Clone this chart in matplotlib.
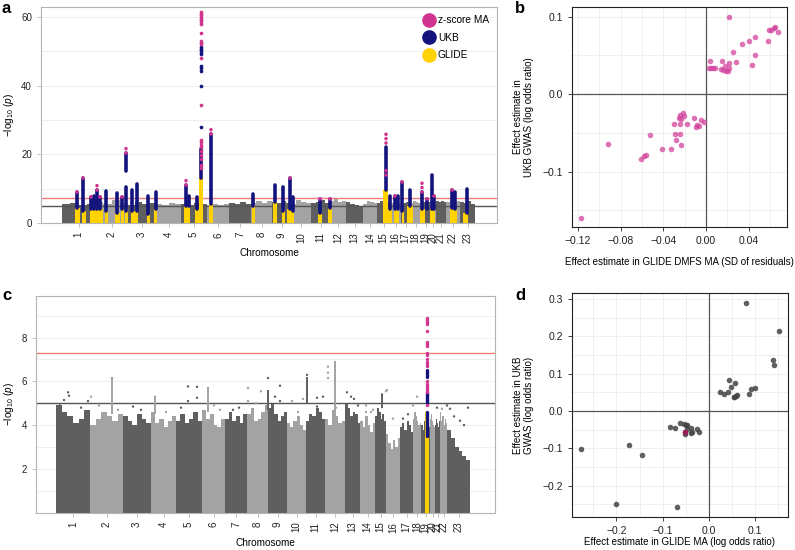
import numpy as np
import matplotlib
matplotlib.use('Agg')
import matplotlib.pyplot as plt
from matplotlib.lines import Line2D
from matplotlib.ticker import FixedLocator

plt.rcParams['font.family'] = ['Liberation Sans', 'DejaVu Sans']
plt.rcParams['mathtext.fontset'] = 'custom'
plt.rcParams['mathtext.rm'] = 'Liberation Sans'
plt.rcParams['mathtext.it'] = 'Liberation Sans:italic'
plt.rcParams['font.size'] = 7

# ---------------- data ----------------
chrom_labels = [str(i) for i in range(1, 24)]

# cumulative genome positions of chromosome borders (panel a / panel c)
edges_a = [21, 54, 87, 115, 140, 166, 188, 210, 231, 250, 270, 289, 305, 322,
           336, 349, 360, 369, 380, 389, 395, 405, 419, 434]
edges_c = [20, 54, 87, 115, 140, 166, 189, 211, 232, 251, 270, 289, 309, 324,
           339, 350, 364, 377, 385, 394, 399, 404, 411, 434]

# bulk of SNPs: upper envelope of -log10(p) per chromosome
env_a = [[5.5, 5.8, 5.2, 5.6], [6.2, 5.4, 6.8, 5.9], [5.3, 6.0, 5.5, 5.7],
         [5.4, 5.2, 5.8, 5.5], [5.6, 5.3, 5.9, 5.4], [5.2, 5.5, 5.1, 5.4],
         [5.8, 5.5, 6.0, 5.6], [5.9, 6.3, 5.7, 6.5], [6.0, 5.7, 6.4, 5.8],
         [5.5, 6.8, 6.1, 5.9], [5.7, 6.2, 6.6, 5.9], [6.4, 6.9, 6.1, 6.5],
         [6.2, 5.6, 5.3, 5.0], [5.6, 6.5, 6.0, 5.8], [5.9, 6.3, 5.7, 6.1],
         [5.8, 6.1, 5.5, 5.9], [6.0, 5.7, 6.2, 5.9], [5.7, 6.3, 6.0, 5.8],
         [6.4, 6.1, 6.6, 6.2], [6.0, 6.4, 5.9, 6.2], [6.3, 6.0, 6.5, 6.1],
         [6.2, 6.6, 6.0, 6.4], [6.1, 5.8, 6.3, 5.6]]
env_c = [[4.9, 4.6, 4.4, 4.1, 4.3, 4.7], [4.0, 4.3, 4.6, 4.4, 4.2, 4.5],
         [4.4, 4.2, 4.0, 4.5, 4.3, 4.1], [4.6, 4.1, 4.3, 3.9, 4.2, 4.4],
         [4.2, 4.5, 4.1, 4.3, 4.6, 4.2], [4.7, 4.3, 4.5, 4.0, 3.9, 4.3],
         [4.3, 4.6, 4.2, 4.4, 4.1, 4.5], [4.5, 4.8, 4.2, 4.3, 4.6, 4.9],
         [4.8, 5.0, 4.5, 4.2, 4.4, 4.6], [4.1, 3.9, 4.2, 4.4, 4.0, 3.8],
         [4.2, 4.5, 4.4, 4.8, 4.6, 4.3], [4.3, 4.0, 4.7, 4.4, 4.1, 4.2],
         [5.0, 4.8, 4.4, 4.6, 4.5, 4.1], [4.2, 3.9, 4.4, 4.0, 3.7, 4.1],
         [4.4, 4.8, 4.6, 4.3, 4.5, 4.2], [3.6, 3.2, 2.9, 3.3, 3.0, 3.4],
         [3.9, 4.1, 3.8, 4.2, 4.0, 3.7], [4.3, 4.6, 4.4, 4.2, 4.0, 4.1],
         [4.0, 3.8, 4.2, 3.6, 3.5, 3.9], [4.3, 4.5, 4.2, 4.4, 4.0, 3.9],
         [4.0, 4.3, 4.1, 3.8, 3.9, 4.2], [4.6, 4.2, 4.4, 4.0, 4.3, 4.1],
         [3.8, 3.4, 3.0, 2.8, 2.6, 2.4]]

# panel a: GLIDE (gold) blocks
gold_left = [34, 41, 49, 64, 74, 80, 84, 90, 106, 113, 143, 154, 158, 168, 211,
             232, 241, 246, 277, 287, 342, 347, 353, 361, 366, 379, 389, 409, 422]
gold_right = [39, 45, 62, 67, 79, 83, 87, 97, 109, 116, 149, 158, 162, 172, 214,
              236, 244, 253, 281, 291, 347, 351, 358, 363, 372, 384, 394, 416, 427]
gold_h = [4.4, 3.5, 4.0, 3.5, 3.0, 4.0, 3.5, 3.5, 2.5, 4.0, 5.0, 4.0, 13.0, 5.5, 5.0,
          6.0, 3.5, 4.0, 3.0, 4.5, 9.6, 4.0, 4.0, 3.5, 5.0, 4.0, 4.0, 4.5, 3.0]

# panel a: UKB (navy) columns
navy_x = [36, 42, 50, 53, 56, 59, 65, 76, 81, 85, 85, 91, 96, 107, 115, 145, 148,
          156, 160, 170, 212, 234, 242, 249, 252, 279, 289, 345, 349, 354, 357,
          361, 369, 381, 386, 391, 393, 411, 414, 426]
navy_lo = [4.4, 3.5, 4.0, 4.0, 4.0, 4.0, 3.5, 3.0, 4.0, 3.5, 15.0, 3.5, 3.5, 2.5,
           4.0, 5.0, 5.0, 4.0, 13.0, 5.5, 5.0, 6.0, 3.5, 4.0, 3.5, 3.0, 4.5, 9.6,
           4.0, 4.0, 4.0, 3.5, 5.0, 4.0, 4.0, 4.0, 4.0, 4.5, 4.0, 3.0]
navy_hi = [9.0, 13.0, 7.5, 8.0, 9.5, 7.5, 9.2, 8.8, 7.5, 10.5, 20.5, 9.5, 11.5, 8.0,
           9.0, 11.0, 8.0, 7.5, 21.5, 26.0, 8.5, 11.0, 10.5, 13.0, 7.5, 7.0, 7.0,
           22.0, 8.0, 8.0, 8.0, 12.0, 9.5, 9.0, 7.0, 14.0, 8.0, 9.5, 9.0, 10.0]

# panel a: z-score MA (pink) columns
pink_x = [36, 42, 50, 56, 59, 81, 85, 145, 170, 249, 279, 289, 345, 345, 354, 361,
          381, 386, 393, 411]
pink_lo = [9.0, 13.0, 7.5, 9.5, 7.5, 7.5, 20.5, 11.0, 26.0, 13.0, 7.0, 7.0, 23.3,
           14.0, 8.0, 12.0, 9.0, 7.0, 8.0, 9.5]
pink_hi = [9.8, 14.3, 8.0, 11.0, 8.7, 8.2, 22.0, 13.0, 27.5, 13.5, 7.5, 7.5, 26.2,
           16.3, 8.8, 13.0, 12.3, 7.5, 8.4, 10.8]

# chromosome 5 top hit, single SNPs
chr5_x = 160
chr5_pink = [61.5, 61.0, 60.5, 60.0, 59.5, 59.0, 58.5, 58.0, 55.3, 53.0, 52.5, 52.0,
             48.0, 34.4, 24.2, 23.5, 22.8, 22.2, 21.0, 19.8, 18.5, 17.0, 16.0]
chr5_navy = [51.3, 50.8, 50.3, 49.8, 49.2, 45.7, 45.0, 44.2, 40.0, 28.0]

# panel c: isolated SNPs above the bulk
dots_c_x = [32, 33, 28, 52, 55, 76, 97, 119, 152, 152, 161, 161, 172, 184, 197, 212,
            212, 225, 232, 244, 244, 256, 267, 271, 271, 281, 281, 287, 292, 292,
            292, 311, 315, 322, 330, 330, 337, 346, 350, 351, 367, 377, 381, 401,
            406, 411, 414, 424, 432, 24, 45, 63, 82, 105, 130, 145, 178, 203, 220,
            239, 262, 300, 318, 335, 357, 372, 418, 428]
dots_c_y = [5.5, 5.34, 5.15, 5.1, 5.3, 6.15, 4.85, 5.3, 5.77, 5.1, 5.75, 5.25, 5.7,
            4.7, 4.7, 5.7, 5.1, 5.55, 6.15, 5.8, 5.1, 5.1, 5.2, 6.3, 5.4, 5.25, 4.85,
            5.3, 6.67, 6.4, 6.15, 5.5, 5.3, 4.9, 4.9, 4.6, 4.7, 5.4, 5.55, 5.6, 4.3,
            4.9, 5.3, 4.8, 4.75, 4.9, 4.75, 4.2, 4.8, 4.9, 4.8, 4.9, 4.7, 4.7, 4.6,
            4.8, 4.9, 4.8, 5.0, 5.3, 4.6, 4.8, 5.2, 4.6, 4.3, 4.5, 4.4, 4.0]
spike_c_x = [76, 119, 172, 232, 271, 299, 346]
spike_c_lo = [4.5, 4.5, 4.6, 4.7, 5.0, 4.0, 4.8]
spike_c_hi = [6.2, 5.3, 5.7, 5.6, 6.2, 6.95, 5.4]

# panel c: chromosome 19 hit
c19_x = 391
c19_gold = 4.6
c19_navy_lo = [3.5, 5.0, 6.2]
c19_navy_hi = [4.6, 5.5, 6.5]
c19_pink = [8.9, 8.8, 8.7, 8.6, 8.3, 7.8, 7.7, 7.6, 7.3, 7.2, 7.0, 6.9, 6.8, 6.7,
            6.0, 5.9, 5.8, 5.7, 5.6, 5.5, 4.9]

# panel b
b_x = [0.022, 0.059, 0.061, 0.064, 0.065, 0.067, 0.058, 0.046, 0.040, 0.034, 0.046,
       0.043, 0.025, 0.028, 0.022, 0.015, 0.004, 0.003, 0.0045, 0.0066, 0.0088,
       0.0138, 0.016, 0.019, 0.021, 0.022, 0.018,
       -0.0016, -0.0047, -0.008, -0.009, -0.007, -0.011, -0.018, -0.022, -0.024,
       -0.021, -0.025, -0.023, -0.030, -0.024, -0.029, -0.024, -0.028, -0.023,
       -0.033, -0.041, -0.0525, -0.0916, -0.061, -0.058, -0.0565, -0.117]
b_y = [0.100, 0.083, 0.083, 0.085, 0.086, 0.080, 0.069, 0.074, 0.069, 0.065, 0.051,
       0.037, 0.054, 0.041, 0.040, 0.042, 0.043, 0.033, 0.033, 0.034, 0.034, 0.032,
       0.031, 0.030, 0.030, 0.033, 0.036,
       -0.036, -0.034, -0.040, -0.042, -0.041, -0.031, -0.039, -0.024, -0.027,
       -0.029, -0.031, -0.032, -0.039, -0.039, -0.052, -0.052, -0.059, -0.066,
       -0.071, -0.071, -0.0525, -0.064, -0.084, -0.080, -0.079, -0.160]

# panel d
d_x = [0.081, 0.152, 0.138, 0.140, 0.0425, 0.057, 0.0475, 0.041, 0.025, 0.033, 0.054,
       0.058, 0.061, 0.055, 0.086, 0.090, 0.099,
       -0.276, -0.172, -0.144, -0.201, -0.070,
       -0.084, -0.073, -0.063, -0.053, -0.050, -0.047, -0.039, -0.025, -0.022,
       -0.051, -0.038, -0.047, -0.037, -0.052]
d_y = [0.290, 0.214, 0.137, 0.124, 0.084, 0.075, 0.0635, 0.051, 0.051, 0.045, 0.0375,
       0.041, 0.043, 0.038, 0.046, 0.059, 0.061,
       -0.103, -0.091, -0.118, -0.250, -0.257,
       -0.042, -0.046, -0.032, -0.035, -0.037, -0.038, -0.045, -0.047, -0.056,
       -0.062, -0.060, -0.047, -0.056, -0.057]
d_hl_x = [-0.051]
d_hl_y = [-0.055]

# ---------------- style ----------------
DARK = '#5f5f5f'
LIGHT = '#a3a3a3'
PINK = '#d1348f'
NAVY = '#13137d'
GOLD = '#ffd200'
FRAME = '#b5b5b5'
GRID = '#ededed'
SIG = 7.3
SUGG = 5.0


def chrom_colour(edges, x):
    i = np.searchsorted(edges, x, side='right') - 1
    return DARK if i % 2 == 0 else LIGHT


def manhattan_frame(ax, edges, env_list, width, ymax):
    ax.set_xlim(0, width)
    ax.set_ylim(0, ymax)
    centres = [(edges[i] + edges[i + 1]) / 2 for i in range(len(edges) - 1)]
    ax.set_xticks(centres)
    ax.set_xticklabels(chrom_labels, rotation=90)
    for s in ax.spines.values():
        s.set_color(FRAME)
        s.set_linewidth(0.8)
    ax.tick_params(axis='both', colors=FRAME, labelcolor='#222222', length=3,
                   width=0.6, labelsize=7)
    ax.tick_params(axis='y', which='minor', length=0)
    ax.grid(True, axis='y', which='both', color=GRID, lw=0.6, zorder=0)
    ax.set_axisbelow(True)
    ax.set_xlabel('Chromosome', fontsize=7.2, labelpad=4)
    ax.set_ylabel('\u2212log$_{10}$ ($p$)', fontsize=7.2)
    for i in range(len(edges) - 1):
        col = DARK if i % 2 == 0 else LIGHT
        env = env_list[i]
        bins = np.linspace(edges[i], edges[i + 1], len(env) + 1)
        ax.stairs(env, bins, baseline=0, fill=True, color=col, lw=0, zorder=1)
    ax.axhline(SIG, color='#f07b7b', lw=1.0, zorder=2)
    ax.axhline(SUGG, color='#555555', lw=1.0, zorder=2)


def scatter_frame(ax):
    for s in ax.spines.values():
        s.set_color('#222222')
        s.set_linewidth(0.8)
    ax.grid(True, which='both', color=GRID, lw=0.6, zorder=0)
    ax.set_axisbelow(True)
    ax.tick_params(axis='both', which='major', length=3, width=0.6,
                   colors='#222222', labelsize=7.5)
    ax.tick_params(axis='both', which='minor', length=0)
    ax.axhline(0, color='#555555', lw=0.9, zorder=1)
    ax.axvline(0, color='#555555', lw=0.9, zorder=1)


fig = plt.figure(figsize=(7.95, 5.5), dpi=100)
W, H = 795, 550
ax_a = fig.add_axes([41 / W, 1 - 223 / H, 456 / W, 216 / H])
ax_b = fig.add_axes([572 / W, 1 - 227 / H, 215 / W, 220 / H])
ax_c = fig.add_axes([36 / W, 1 - 512.7 / H, 459 / W, 216.7 / H])
ax_d = fig.add_axes([572 / W, 1 - 517 / H, 216 / W, 224 / H])

# ---- panel a ----
manhattan_frame(ax_a, edges_a, env_a, 456, 62.9)
ax_a.yaxis.set_major_locator(FixedLocator([0, 20, 40, 60]))
ax_a.yaxis.set_minor_locator(FixedLocator([10, 30, 50]))
ax_a.bar(gold_left, gold_h, width=np.array(gold_right) - np.array(gold_left),
         align='edge', color=GOLD, lw=0, zorder=3)
ax_a.vlines(navy_x, navy_lo, navy_hi, color=NAVY, lw=2.6, capstyle='round', zorder=4)
ax_a.vlines(pink_x, pink_lo, pink_hi, color=PINK, lw=2.6, capstyle='round',
            linestyles=[(0, (0.01, 1.2))], zorder=5)
ax_a.scatter([chr5_x] * len(chr5_navy), chr5_navy, s=7, color=NAVY, lw=0, zorder=5)
ax_a.scatter([chr5_x] * len(chr5_pink), chr5_pink, s=7, color=PINK, lw=0, zorder=6)
handles = [Line2D([], [], ls='', marker='o', ms=9.5, color=c) for c in (PINK, NAVY, GOLD)]
ax_a.legend(handles, ['z-score MA', 'UKB', 'GLIDE'], loc='upper right',
            bbox_to_anchor=(1.0, 1.0), frameon=False, fontsize=7.3, handletextpad=0.15,
            labelspacing=0.75, borderpad=0.3, handlelength=1.4)

# ---- panel c ----
manhattan_frame(ax_c, edges_c, env_c, 459, 9.9)
ax_c.yaxis.set_major_locator(FixedLocator([2, 4, 6, 8]))
ax_c.yaxis.set_minor_locator(FixedLocator([1, 3, 5, 7, 9]))
ax_c.vlines(spike_c_x, spike_c_lo, spike_c_hi,
            colors=[chrom_colour(edges_c, x) for x in spike_c_x], lw=1.4, zorder=2)
ax_c.scatter(dots_c_x, dots_c_y, s=3,
             c=[chrom_colour(edges_c, x) for x in dots_c_x], lw=0, zorder=2)
ax_c.bar([c19_x], [c19_gold], width=4, color=GOLD, lw=0, zorder=3)
ax_c.vlines([c19_x] * 3, c19_navy_lo, c19_navy_hi, color=NAVY, lw=2.4,
            capstyle='round', zorder=4)
ax_c.scatter([c19_x] * len(c19_pink), c19_pink, s=6, color=PINK, lw=0, zorder=5)

# ---- panel b ----
scatter_frame(ax_b)
ax_b.set_xlim(-0.1256, 0.0759)
ax_b.set_ylim(-0.1716, 0.1123)
ax_b.xaxis.set_major_locator(FixedLocator([-0.12, -0.08, -0.04, 0.0, 0.04]))
ax_b.xaxis.set_minor_locator(FixedLocator([-0.10, -0.06, -0.02, 0.02, 0.06]))
ax_b.yaxis.set_major_locator(FixedLocator([-0.1, 0.0, 0.1]))
ax_b.yaxis.set_minor_locator(FixedLocator([-0.15, -0.05, 0.05]))
ax_b.set_xticklabels(['\u22120.12', '\u22120.08', '\u22120.04', '0.00', '0.04'])
ax_b.set_yticklabels(['\u22120.1', '0.0', '0.1'])
ax_b.scatter(b_x, b_y, s=16, color='#d2439d', alpha=0.75, lw=0, zorder=3)
ax_b.set_xlabel('Effect estimate in GLIDE DMFS MA (SD of residuals)', fontsize=7,
                labelpad=8)
ax_b.set_ylabel('Effect estimate in\nUKB GWAS (log odds ratio)', fontsize=7,
                labelpad=6)

# ---- panel d ----
scatter_frame(ax_d)
ax_d.set_xlim(-0.296, 0.171)
ax_d.set_ylim(-0.284, 0.316)
ax_d.xaxis.set_major_locator(FixedLocator([-0.2, -0.1, 0.0, 0.1]))
ax_d.xaxis.set_minor_locator(FixedLocator([-0.25, -0.15, -0.05, 0.05, 0.15]))
ax_d.yaxis.set_major_locator(FixedLocator([-0.2, -0.1, 0.0, 0.1, 0.2, 0.3]))
ax_d.yaxis.set_minor_locator(FixedLocator([-0.25, -0.15, -0.05, 0.05, 0.15, 0.25]))
ax_d.set_xticklabels(['\u22120.2', '\u22120.1', '0.0', '0.1'])
ax_d.set_yticklabels(['\u22120.2', '\u22120.1', '0.0', '0.1', '0.2', '0.3'])
ax_d.scatter(d_x, d_y, s=16, color='#444444', alpha=0.85, lw=0, zorder=3)
ax_d.scatter(d_hl_x, d_hl_y, s=16, color='#a3195b', alpha=0.9, lw=0, zorder=4)
ax_d.set_xlabel('Effect estimate in GLIDE MA (log odds ratio)', fontsize=7,
                labelpad=1)
ax_d.set_ylabel('Effect estimate in UKB\nGWAS (log odds ratio)', fontsize=7,
                labelpad=6)

# panel letters
for txt, x, y in [('a', 2, 13), ('b', 515, 13), ('c', 2, 300), ('d', 515, 300)]:
    fig.text(x / W, 1 - y / H, txt, fontsize=12, fontweight='bold', va='baseline')

fig.savefig('out.png', dpi=100)
